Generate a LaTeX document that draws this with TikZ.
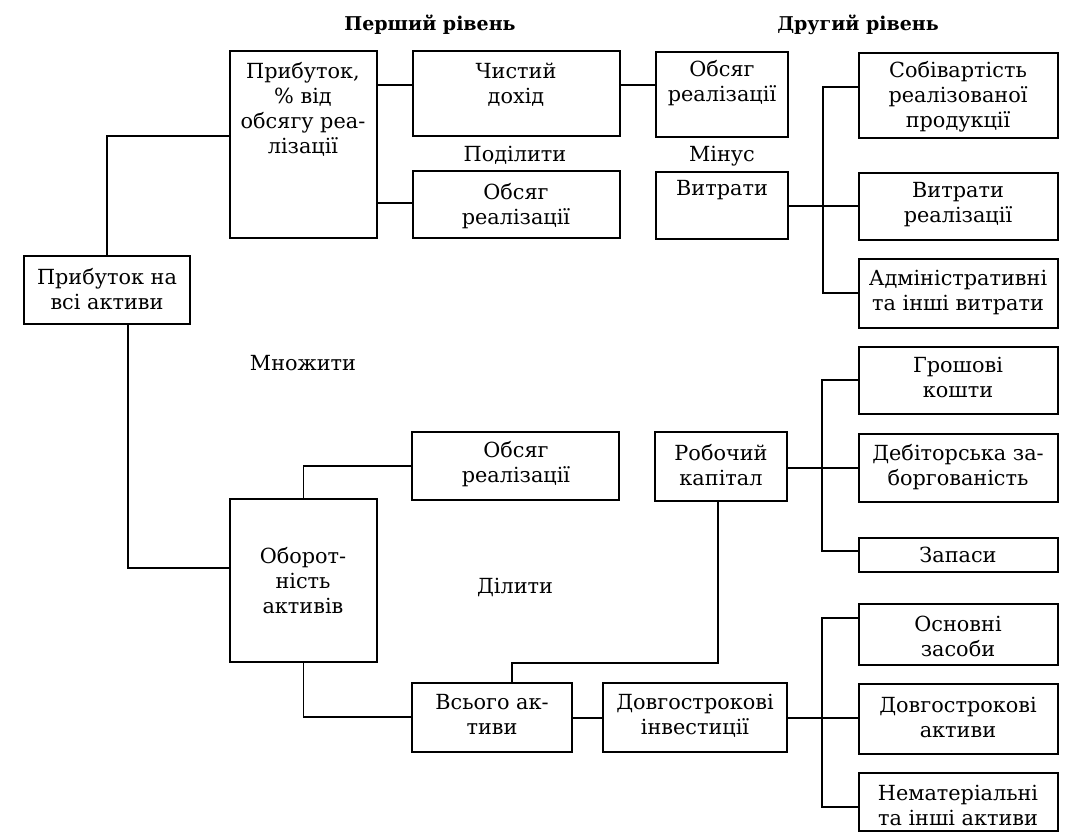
\documentclass[tikz,border=0pt]{standalone}
\usepackage{fontspec}
\setmainfont{DejaVu Serif}
\usetikzlibrary{fit}
\tikzset{
  box/.style={draw, line width=1.8pt, inner sep=0pt},
  txt/.style={align=center, inner sep=0pt, font=\fontsize{20.8}{25}\selectfont},
  hdr/.style={align=center, inner sep=0pt, font=\fontsize{19}{25}\selectfont\bfseries},
  con/.style={line width=1.8pt}
}
\begin{document}
\begin{tikzpicture}[x=1pt,y=-1pt]
\useasboundingbox (0,0) rectangle (1089,836);
% boxes
\node[box, fit={(24,256)(190,324)}] (pa) {};
\node[box, fit={(230,51)(377,238)}] (p1) {};
\node[box, fit={(413,51)(620,136)}] (chy) {};
\node[box, fit={(413,171)(620,238)}] (os1) {};
\node[box, fit={(656,52)(788,137)}] (os2) {};
\node[box, fit={(656,172)(788,239)}] (vy) {};
\node[box, fit={(859,53)(1058,138)}] (sob) {};
\node[box, fit={(859,173)(1058,240)}] (vr) {};
\node[box, fit={(859,259)(1058,328)}] (adm) {};
\node[box, fit={(859,347)(1058,414)}] (gr) {};
\node[box, fit={(859,434)(1058,502)}] (deb) {};
\node[box, fit={(859,538)(1058,572)}] (zap) {};
\node[box, fit={(859,604)(1058,665)}] (osn) {};
\node[box, fit={(859,684)(1058,754)}] (da) {};
\node[box, fit={(859,773)(1058,831)}] (nem) {};
\node[box, fit={(655,432)(787,501)}] (rk) {};
\node[box, fit={(412,432)(619,500)}] (os3) {};
\node[box, fit={(230,499)(377,662)}] (ob) {};
\node[box, fit={(412,683)(572,752)}] (vs) {};
\node[box, fit={(603,683)(787,752)}] (di) {};
% texts
\node[hdr] (h1) at (430,25) {Перший рівень};
\node[hdr] (h2) at (858,25) {Другий рівень};
\node[txt] (pa-t) at (107,289) {Прибуток на\\всі активи};
\node[txt] (p1-t) at (303,109.5) {Прибуток,\\\% від\\обсягу реа-\\лізації};
\node[txt] (chy-t) at (516,84.5) {Чистий\\дохід};
\node[txt] (os1-t) at (516,206) {Обсяг\\реалізації};
\node[txt] (os2-t) at (722,83.5) {Обсяг\\реалізації};
\node[txt] (vy-t) at (722,190) {Витрати};
\node[txt] (sob-t) at (958,97) {Собівартість\\реалізованої\\продукції};
\node[txt] (vr-t) at (958,204.5) {Витрати\\реалізації};
\node[txt] (adm-t) at (958,292.5) {Адміністративні\\та інші витрати};
\node[txt] (gr-t) at (958,377.5) {Грошові\\кошти};
\node[txt] (deb-t) at (958,467.5) {Дебіторська за-\\боргованість};
\node[txt] (zap-t) at (958,555) {Запаси};
\node[txt] (osn-t) at (958,636.5) {Основні\\засоби};
\node[txt] (da-t) at (958,717.5) {Довгострокові\\активи};
\node[txt] (nem-t) at (958,805.5) {Нематеріальні\\та інші активи};
\node[txt] (rk-t) at (721,465.5) {Робочий\\капітал};
\node[txt] (os3-t) at (516,464.5) {Обсяг\\реалізації};
\node[txt] (ob-t) at (303,581) {Оборот-\\ність\\активів};
\node[txt] (vs-t) at (492,714.5) {Всього ак-\\тиви};
\node[txt] (di-t) at (695,715.5) {Довгострокові\\інвестиції};
\node[txt] (l1) at (515,155) {Поділити};
\node[txt] (l2) at (722,156) {Мінус};
\node[txt] (l3) at (303,363) {Множити};
\node[txt] (l4) at (515,587) {Ділити};
% connectors
\coordinate (bus1) at (823,206);
\coordinate (bus2) at (822,468);
\coordinate (bus3) at (822,718);
\coordinate (turn) at (512,663);
\draw[con] (pa.north) |- (p1.west |- 0,136);
\draw[con] (pa.south -| 128,0) |- (ob.west |- 0,568);
\draw[con] (p1.east |- 0,85) -- (chy.west |- 0,85);
\draw[con] (p1.east |- 0,203) -- (os1.west |- 0,203);
\draw[con] (chy.east |- 0,85) -- (os2.west |- 0,85);
\draw[con] (vy.east |- 0,206) -- (vr.west |- 0,206);
\draw[con] (sob.west |- 0,87) -| (bus1) |- (adm.west |- 0,293);
\draw[con] (rk.east |- 0,468) -- (deb.west |- 0,468);
\draw[con] (gr.west |- 0,380) -| (bus2) |- (zap.west |- 0,551);
\draw[con] (ob.north) |- (os3.west |- 0,466);
\draw[con] (ob.south) |- (vs.west |- 0,717);
\draw[con] (rk.south -| 718,0) |- (turn) -- (vs.north -| turn);
\draw[con] (vs.east |- 0,718) -- (di.west |- 0,718);
\draw[con] (di.east |- 0,718) -- (da.west |- 0,718);
\draw[con] (osn.west |- 0,618) -| (bus3) |- (nem.west |- 0,807);
\end{tikzpicture}
\end{document}
